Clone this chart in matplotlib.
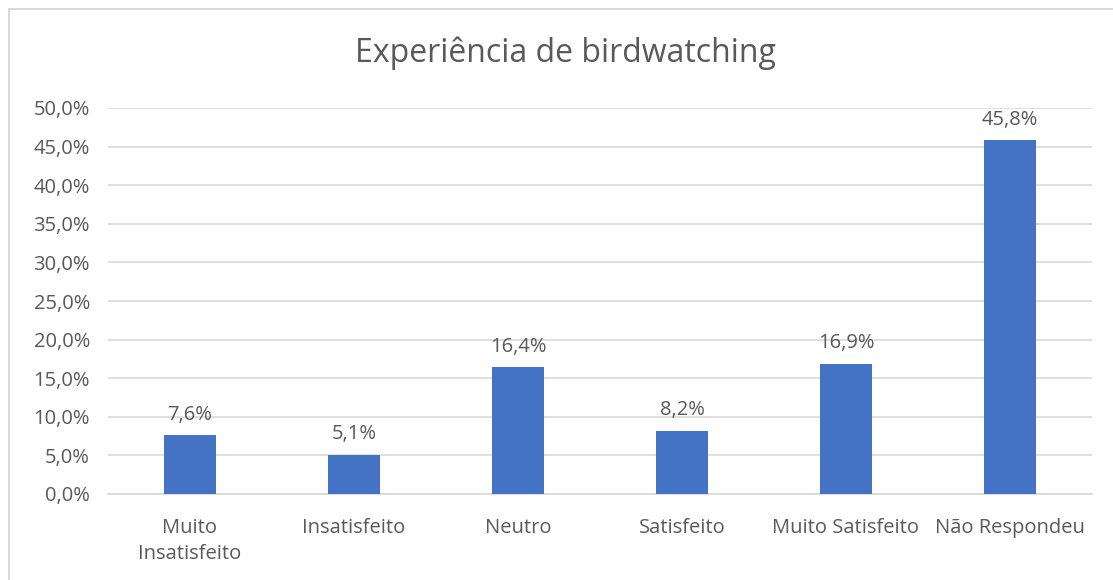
import matplotlib.pyplot as plt
from matplotlib.patches import Rectangle
from matplotlib.ticker import FuncFormatter

# Dados da pesquisa
categorias = ['Muito\nInsatisfeito', 'Insatisfeito', 'Neutro', 'Satisfeito',
              'Muito Satisfeito', 'Não Respondeu']
valores = [7.6, 5.1, 16.4, 8.2, 16.9, 45.8]

plt.rcParams['font.family'] = ['Open Sans', 'DejaVu Sans']
cor_texto = '#595959'
tam = 14.5

fig = plt.figure(figsize=(11.13, 5.8), dpi=100)

# Borda da área do gráfico
fig.patches.append(Rectangle((9 / 1113, -0.05), 1.2, 1 - 9 / 580 + 0.05,
                             transform=fig.transFigure, fill=False,
                             edgecolor='#D9D9D9', linewidth=1.5))

ax = fig.add_axes([108 / 1113, 1 - 494 / 580, (1092 - 108) / 1113, (494 - 108) / 580])
x = range(len(categorias))
ax.bar(x, [v / 100 for v in valores], width=0.32, color='#4472C4', zorder=3)

for i, v in enumerate(valores):
    ax.text(i, v / 100 + 0.014, f'{v:.1f}%'.replace('.', ','), ha='center',
            va='bottom', fontsize=tam, color=cor_texto)

ax.set_xlim(-0.5, len(categorias) - 0.5)
ax.set_ylim(0, 0.5)
ax.set_yticks([i * 0.05 for i in range(11)])
ax.yaxis.set_major_formatter(FuncFormatter(lambda y, _: f'{y * 100:.1f}%'.replace('.', ',')))
ax.grid(axis='y', color='#D9D9D9', linewidth=1.2, zorder=0)
ax.set_xticks(list(x))
ax.set_xticklabels(categorias, fontsize=tam, color=cor_texto, va='top', linespacing=1.4)
ax.tick_params(axis='y', labelsize=tam, labelcolor=cor_texto, length=0, pad=13)
ax.tick_params(axis='x', length=0, pad=17)
for lado in ['top', 'right', 'left']:
    ax.spines[lado].set_visible(False)
ax.spines['bottom'].set_color('#D9D9D9')
ax.spines['bottom'].set_linewidth(1.2)

fig.text(565 / 1113, 1 - 53 / 580, 'Experiência de birdwatching', ha='center',
         va='center', fontsize=23, color=cor_texto)

fig.savefig('out.png', dpi=100)
